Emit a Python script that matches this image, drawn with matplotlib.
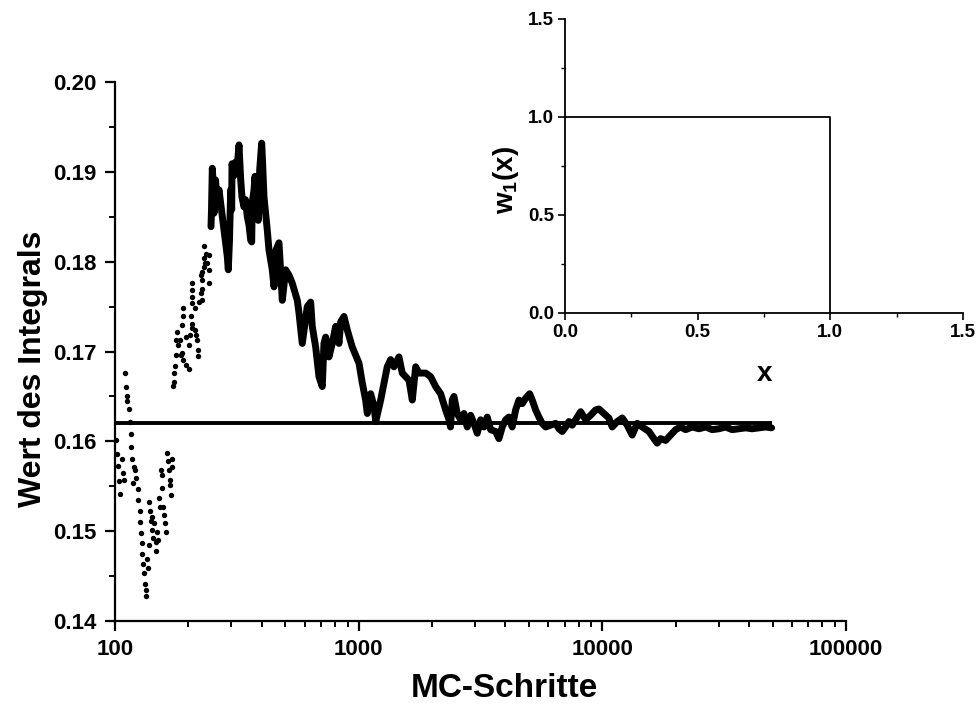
import matplotlib
matplotlib.use("Agg")
import matplotlib.pyplot as plt
from matplotlib.ticker import MultipleLocator, FixedLocator, NullFormatter, LogLocator, FormatStrFormatter

plt.rcParams['font.family'] = ['Liberation Sans', 'DejaVu Sans']
plt.rcParams['font.weight'] = 'bold'

# --- running estimate, early steps (individual points) ---
early_steps = [
    101, 102, 103, 104, 104.5, 106.4, 107.8, 108.5,
    110, 110.5, 111.7, 112.3, 114, 114.8, 115.9, 116.6, 117.7, 119.7, 120.8, 121.6,
    119.0, 124, 124.6, 126.3, 127, 127.4, 128.8, 129.5, 130.2, 131, 132.8, 133.6,
    134.3, 135.6, 136.9, 137.9, 138.8, 138.2, 140.2, 142.2, 142.5, 143.2, 144.5,
    146.9, 147.7, 149, 150.3, 151.6, 152.6, 153.9, 155.2, 156.2, 157.4, 158.8,
    160.4, 161.4, 162.9, 165.6, 166.6, 167.6, 168.6, 169.2, 171.9, 170.8,
    173.0, 174.4, 174.6, 176.3, 177.4, 178.5, 180.2, 182.0, 184.5, 186.3, 189.2,
    190.1, 196.5, 200.3, 188.9, 190.3, 189.5, 195.4, 201.2, 202.5, 204.4, 206.3,
    207.5, 212.9, 215.6, 217.6, 219.7, 219.9, 206.3, 207.5, 207.7, 207.9, 212.9,
    221.1, 228.1, 224.7, 226.8, 228.3, 224.9, 228.5, 231.8, 234.1, 232.0, 235.6,
    231.6, 239.3, 243.1, 243.3, 243.5,
]
early_values = [
    0.1601, 0.1586, 0.1572, 0.1556, 0.1541, 0.1580, 0.1565, 0.1557,
    0.1676, 0.1661, 0.1645, 0.1650, 0.1636, 0.1622, 0.1608, 0.1594, 0.1580, 0.1571, 0.1568, 0.1559,
    0.1554, 0.1547, 0.1535, 0.1522, 0.1510, 0.1498, 0.1487, 0.1475, 0.1464, 0.1453, 0.1441, 0.1434,
    0.1428, 0.1469, 0.1459, 0.1485, 0.1522, 0.1533, 0.1511, 0.1516, 0.1501, 0.1492, 0.1509,
    0.1478, 0.1488, 0.1499, 0.1490, 0.1537, 0.1527, 0.1568, 0.1562, 0.1548, 0.1527, 0.1518,
    0.1509, 0.1499, 0.1587, 0.1578, 0.1568, 0.1557, 0.1551, 0.1540, 0.1580, 0.1571,
    0.1662, 0.1666, 0.1676, 0.1684, 0.1696, 0.1713, 0.1722, 0.1707, 0.1713, 0.1696, 0.1698,
    0.1691, 0.1685, 0.1681, 0.1729, 0.1739, 0.1748, 0.1716, 0.1707, 0.1718, 0.1739, 0.1731,
    0.1726, 0.1724, 0.1718, 0.1713, 0.1702, 0.1695, 0.1754, 0.1761, 0.1768, 0.1776, 0.1748,
    0.1755, 0.1757, 0.1765, 0.1770, 0.1780, 0.1785, 0.1789, 0.1794, 0.1798, 0.1804, 0.1809,
    0.1817, 0.1798, 0.1791, 0.1776, 0.1807,
]

# --- running estimate, later steps (dense trace) ---
trace_steps = [
    247.7, 248.9, 250.8, 253.7, 254.9, 258.5, 262.2, 267.2, 271.5, 275.6, 280.1,
    284.6, 288.9, 291.7, 295.0, 298.4, 301.2, 302.1, 307.8, 312.8, 316.6, 322.7,
    328.0, 332.0, 338.3, 343.2, 349.1, 354.7, 360.5, 363.9, 365.6, 371.9, 375.4,
    380.7, 387.3, 392.4, 399.9, 403.0, 408.7, 421.7, 428.5, 442.1, 449.2, 457.8,
    471.0, 485.9, 501.8, 517.6, 534.0, 559.9, 568.9, 586.9, 615.2, 635.4, 645.0,
    666.1, 687.2, 708.9, 720.4, 732.1, 755.3, 779.3, 804.7, 830.2, 843.7, 870.4,
    898.1, 941.2, 1003, 1035, 1068, 1085, 1120, 1156, 1175, 1231, 1310, 1353,
    1396, 1463, 1510, 1609, 1660, 1714, 1768, 1884, 1974, 2070, 2170, 2275,
    2348, 2382, 2422, 2461, 2538, 2621, 2704, 2790, 2882, 2972, 3067, 3167,
    3268, 3371, 3481, 3649, 3764, 3884, 4010, 4137, 4268, 4408, 4548, 4692,
    4845, 5031, 5157, 5324, 5493, 5667, 5853, 6136, 6433, 6636, 6846, 7069,
    7293, 7524, 7769, 8147, 8541, 8954, 9387, 9683, 10150, 10640, 10980, 11510,
    12070, 12650, 13260, 13910, 14580, 15540, 16280, 16800, 17350, 18190, 19070,
    19990, 20960, 21970, 23380, 24920, 26550, 28250, 30090, 32060, 34120, 36360,
    38730, 41230, 43920, 46800, 49510,
]
trace_values = [
    0.1839, 0.1858, 0.1904, 0.1880, 0.1854, 0.1891, 0.1869, 0.1880, 0.1865, 0.1850, 0.1835,
    0.1820, 0.1806, 0.1791, 0.1824, 0.1880, 0.1858, 0.1909, 0.1896, 0.1911, 0.1902, 0.1930,
    0.1891, 0.1872, 0.1861, 0.1869, 0.1850, 0.1841, 0.1824, 0.1822, 0.1865, 0.1880, 0.1895,
    0.1869, 0.1846, 0.1902, 0.1932, 0.1913, 0.1872, 0.1835, 0.1813, 0.1791, 0.1772, 0.1813,
    0.1821, 0.1757, 0.1791, 0.1785, 0.1776, 0.1757, 0.1743, 0.1709, 0.1750, 0.1755, 0.1728,
    0.1705, 0.1672, 0.1661, 0.1709, 0.1716, 0.1694, 0.1709, 0.1728, 0.1709, 0.1733, 0.1739,
    0.1724, 0.1705, 0.1687, 0.1665, 0.1646, 0.1631, 0.1653, 0.1639, 0.1622, 0.1646, 0.1683, 0.1691,
    0.1683, 0.1694, 0.1676, 0.1668, 0.1646, 0.1683, 0.1676, 0.1676, 0.1672, 0.1661, 0.1653, 0.1635,
    0.1624, 0.1616, 0.1646, 0.1650, 0.1631, 0.1624, 0.1631, 0.1616, 0.1629, 0.1620, 0.1609, 0.1624,
    0.1616, 0.1627, 0.1613, 0.1611, 0.1603, 0.1616, 0.1624, 0.1627, 0.1616, 0.1635, 0.1646, 0.1642,
    0.1648, 0.1653, 0.1646, 0.1635, 0.1627, 0.1620, 0.1616, 0.1618, 0.1620, 0.1614, 0.1611, 0.1616,
    0.1622, 0.1618, 0.1624, 0.1633, 0.1624, 0.1629, 0.1635, 0.1636, 0.1631, 0.1626, 0.1616, 0.1622,
    0.1626, 0.1618, 0.1607, 0.1620, 0.1616, 0.1611, 0.1603, 0.1598, 0.1603, 0.1601, 0.1607,
    0.1613, 0.1616, 0.1613, 0.1616, 0.1614, 0.1616, 0.1613, 0.1614, 0.1616, 0.1613, 0.1614,
    0.1615, 0.1614, 0.1615, 0.1616, 0.1615,
]

# exact value of the integral
exact_value = 0.162
exact_range = [100, 49500]

# inset: sampling density w1(x)
w_x = [0.0, 1.0, 1.0]
w_y = [1.0, 1.0, 0.0]

fig = plt.figure(figsize=(9.78, 7.11), dpi=100)
ax = fig.add_axes([0.1176, 0.1266, 0.7474, 0.7580])

ax.hlines(exact_value, exact_range[0], exact_range[1], color='black', lw=2.8, zorder=2)
ax.plot(trace_steps, trace_values, color='black', lw=5.0, solid_joinstyle='round',
        solid_capstyle='round', zorder=3)
ax.scatter(early_steps, early_values, s=15, color='black', linewidths=0, zorder=3)

ax.set_xscale('log')
ax.set_xlim(100, 100000)
ax.set_ylim(0.14, 0.20)
ax.xaxis.set_major_locator(FixedLocator([100, 1000, 10000, 100000]))
ax.xaxis.set_minor_locator(LogLocator(base=10, subs=range(2, 10)))
ax.xaxis.set_minor_formatter(NullFormatter())
ax.set_xticklabels(['100', '1000', '10000', '100000'])
ax.yaxis.set_major_locator(MultipleLocator(0.01))
ax.yaxis.set_minor_locator(MultipleLocator(0.005))
ax.yaxis.set_major_formatter(FormatStrFormatter('%.2f'))

for s in ['top', 'right']:
    ax.spines[s].set_visible(False)
for s in ['left', 'bottom']:
    ax.spines[s].set_linewidth(1.6)

ax.tick_params(which='major', direction='out', length=7, width=1.6, labelsize=16, pad=6)
ax.tick_params(which='minor', direction='out', length=4, width=1.4)
for lab in ax.get_xticklabels() + ax.get_yticklabels():
    lab.set_fontweight('bold')

ax.set_xlabel('MC-Schritte', fontsize=24, fontweight='bold')
ax.set_ylabel('Wert des Integrals', fontsize=23, fontweight='bold')
ax.xaxis.set_label_coords(0.532, -0.097)
ax.yaxis.set_label_coords(-0.092, 0.468)

# inset
ins = fig.add_axes([0.5777, 0.5598, 0.4070, 0.4135])
ins.plot(w_x, w_y, color='black', lw=1.3)
ins.set_xlim(0, 1.5)
ins.set_ylim(0, 1.5)
ins.xaxis.set_major_locator(MultipleLocator(0.5))
ins.xaxis.set_minor_locator(MultipleLocator(0.25))
ins.yaxis.set_major_locator(MultipleLocator(0.5))
ins.yaxis.set_minor_locator(MultipleLocator(0.25))
ins.xaxis.set_major_formatter(FormatStrFormatter('%.1f'))
ins.yaxis.set_major_formatter(FormatStrFormatter('%.1f'))
for s in ['top', 'right']:
    ins.spines[s].set_visible(False)
for s in ['left', 'bottom']:
    ins.spines[s].set_linewidth(1.3)
ins.tick_params(which='major', direction='out', length=5, width=1.2, labelsize=13.5, pad=3)
ins.tick_params(which='minor', direction='out', length=3, width=1.0)
for lab in ins.get_xticklabels() + ins.get_yticklabels():
    lab.set_fontweight('bold')
ins.set_xlabel('x', fontsize=20, fontweight='bold', labelpad=14)
ins.set_ylabel(r'w$_\mathregular{1}$(x)', fontsize=20, fontweight='bold')
ins.yaxis.set_label_coords(-0.11, 0.452)
ins.patch.set_alpha(0)

fig.savefig('out.png', dpi=100)
